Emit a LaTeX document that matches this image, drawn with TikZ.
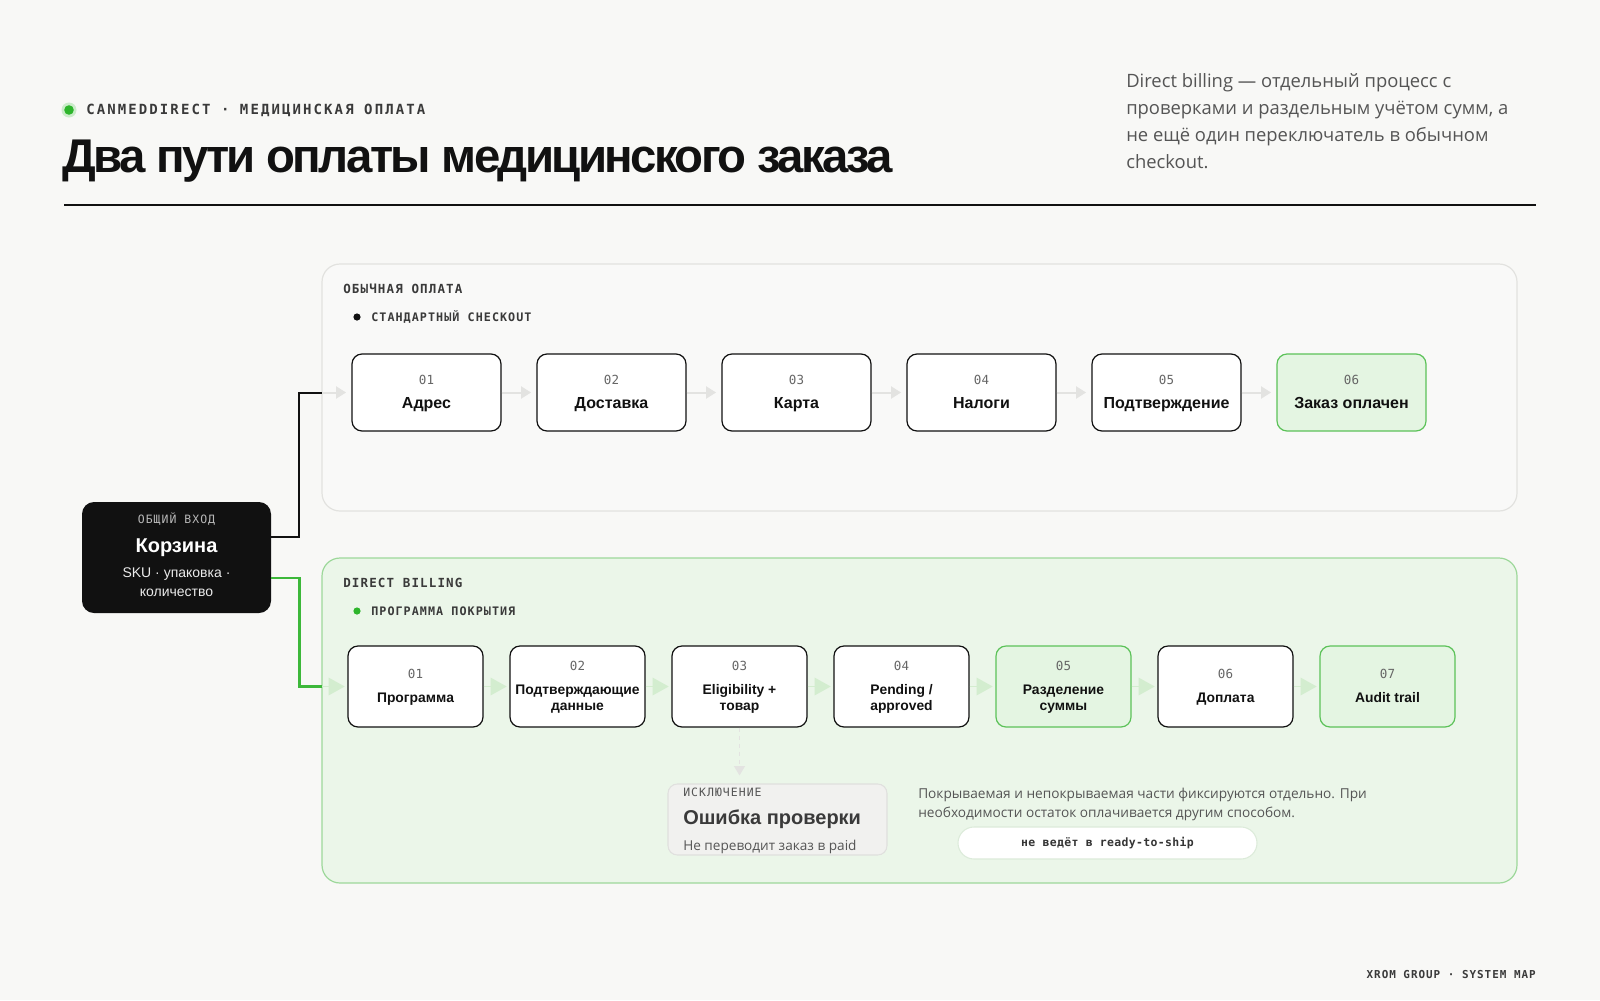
\documentclass[tikz,border=0pt]{standalone}
\usepackage{fontspec}
\setmainfont{Liberation Sans}
\newfontfamily\parafont{Open Sans}
\newfontfamily\titlefont[LetterSpace=-5.5]{Liberation Sans}
\newfontfamily\monowide[LetterSpace=15]{DejaVu Sans Mono}
\newfontfamily\monomid[LetterSpace=9]{DejaVu Sans Mono}
\newfontfamily\mononar[LetterSpace=3]{DejaVu Sans Mono}
\usetikzlibrary{arrows.meta,calc}
\definecolor{bg}{HTML}{F8F8F6}
\definecolor{ink}{HTML}{111111}
\definecolor{txtgray}{HTML}{555555}
\definecolor{lblgray}{HTML}{3A3A3A}
\definecolor{numgray}{HTML}{666666}
\definecolor{panelline}{HTML}{E2E2DF}
\definecolor{panelfill}{HTML}{F9F9F8}
\definecolor{grn}{HTML}{2EB52C}
\definecolor{grnline}{HTML}{3DB83A}
\definecolor{grnpanel}{HTML}{EBF6E9}
\definecolor{grnpanelline}{HTML}{9DD89A}
\definecolor{grnbox}{HTML}{E4F5E2}
\definecolor{grnboxline}{HTML}{5CC259}
\definecolor{grayarrow}{HTML}{E3E3E1}
\definecolor{grnarrow}{HTML}{D3EDCF}
\definecolor{excfill}{HTML}{F1F1EF}
\definecolor{excline}{HTML}{E0E0DE}
\definecolor{pillline}{HTML}{DCEBDA}
\newcommand\pxfs[2]{\fontsize{#1pt}{#2pt}\selectfont}
\tikzset{
  panelbox/.style={draw=panelline, line width=0.9pt, fill=panelfill, rounded corners=13.5pt, inner sep=0},
  grnpanelbox/.style={draw=grnpanelline, line width=0.9pt, fill=grnpanel, rounded corners=13.5pt, inner sep=0},
  tbox/.style={draw=ink, line width=0.9pt, fill=white, rounded corners=7.5pt, minimum width=111.75pt, minimum height=57.75pt, inner sep=0},
  tboxg/.style={tbox, draw=grnboxline, fill=grnbox},
  bbox/.style={draw=ink, line width=0.9pt, fill=white, rounded corners=7.5pt, minimum width=101.25pt, minimum height=60.75pt, inner sep=0},
  bboxg/.style={bbox, draw=grnboxline, fill=grnbox},
  numtxt/.style={inner sep=0, text=numgray, font=\mononar\pxfs{9.4}{11}, anchor=base},
  ttltop/.style={inner sep=0, text=ink, font=\bfseries\pxfs{12}{14}, anchor=base},
  ttlbot/.style={inner sep=0, text=ink, font=\bfseries\pxfs{10.4}{12}, anchor=base},
  capslbl/.style={inner sep=0, text=lblgray, font=\bfseries\monomid\pxfs{9.4}{11}, anchor=base west},
  sublbl/.style={inner sep=0, text=lblgray, font=\bfseries\monomid\pxfs{8.8}{10}, anchor=base west},
  grayarr/.style={draw=grayarrow, line width=1.5pt, -{Triangle[length=7.5pt, width=9pt]}, shorten >=4pt},
  grnarr/.style={draw=grnarrow, line width=1.2pt, -{Triangle[length=12pt, width=13pt]}, shorten >=2pt},
  blkconn/.style={draw=ink, line width=1.5pt},
  grnconn/.style={draw=grnline, line width=2pt},
  dashedarr/.style={draw=grayarrow, line width=1.2pt, dashed, -{Triangle[length=7pt, width=8pt]}, shorten >=6pt},
}
\newcommand\topstep[6]{%
  \node[#4] (#1) at (#2,#3) {};
  \node[numtxt] at ($(#1.center)+(0,-8)$) {#5};
  \node[ttltop] at ($(#1.center)+(0,15.5)$) {#6};}
\newcommand\botstepone[6]{%
  \node[#4] (#1) at (#2,#3) {};
  \node[numtxt] at ($(#1.center)+(0,-8)$) {#5};
  \node[ttlbot] at ($(#1.center)+(0,15.5)$) {#6};}
\newcommand\botsteptwo[7]{%
  \node[#4] (#1) at (#2,#3) {};
  \node[numtxt] at ($(#1.center)+(0,-16)$) {#5};
  \node[ttlbot] at ($(#1.center)+(0,7.5)$) {#6};
  \node[ttlbot] at ($(#1.center)+(0,23.5)$) {#7};}
\begin{document}
\begin{tikzpicture}[x=0.75pt,y=-0.75pt]
\fill[bg] (0,0) rectangle (1600,1000);
\useasboundingbox (0,0) rectangle (1600,1000);

% header
\fill[grn!25] (69,110) circle (7.5);
\fill[grn] (69,110) circle (4.8);
\node[inner sep=0, anchor=base west, text=lblgray, font=\bfseries\monowide\pxfs{10.5}{12}] (kicker) at (86,114.5) {CANMEDDIRECT · МЕДИЦИНСКАЯ ОПЛАТА};
\node[inner sep=0, anchor=base west, text=ink, font=\bfseries\titlefont\pxfs{35.5}{40}] (title) at (62,172.5) {Два пути оплаты медицинского заказа};
\node[inner sep=0, anchor=base west, text=txtgray, font=\parafont\pxfs{13.8}{20.25}, align=left] (para) at (1126,168) {Direct billing — отдельный процесс с\\проверками и раздельным учётом сумм, а\\не ещё один переключатель в обычном\\checkout.};
\draw[ink, line width=0.9pt] (64,205) -- (1536,205);

% panels
\node[panelbox, minimum width=896.25pt, minimum height=185.25pt] (ptop) at (919.5,387.5) {};
\node[grnpanelbox, minimum width=896.25pt, minimum height=243.75pt] (pbot) at (919.5,720.5) {};

\node[capslbl] (ltop) at (343,293.5) {ОБЫЧНАЯ ОПЛАТА};
\fill[ink] (357,317) circle (3.6);
\node[sublbl] (stop) at (371,321) {СТАНДАРТНЫЙ CHECKOUT};
\node[capslbl] (lbot) at (343,587.5) {DIRECT BILLING};
\fill[grn] (357,611) circle (3.6);
\node[sublbl] (sbot) at (371,615) {ПРОГРАММА ПОКРЫТИЯ};

% top steps
\topstep{t1}{426.5}{392.5}{tbox}{01}{Адрес}
\topstep{t2}{611.5}{392.5}{tbox}{02}{Доставка}
\topstep{t3}{796.5}{392.5}{tbox}{03}{Карта}
\topstep{t4}{981.5}{392.5}{tbox}{04}{Налоги}
\topstep{t5}{1166.5}{392.5}{tbox}{05}{Подтверждение}
\topstep{t6}{1351.5}{392.5}{tboxg}{06}{Заказ оплачен}
\foreach \a/\b in {t1/t2,t2/t3,t3/t4,t4/t5,t5/t6}{\draw[grayarr] (\a.east) -- (\b.west);}

% bottom steps
\botstepone{b1}{415.5}{686.5}{bbox}{01}{Программа}
\botsteptwo{b2}{577.5}{686.5}{bbox}{02}{Подтверждающие}{данные}
\botsteptwo{b3}{739.5}{686.5}{bbox}{03}{Eligibility +}{товар}
\botsteptwo{b4}{901.5}{686.5}{bbox}{04}{Pending /}{approved}
\botsteptwo{b5}{1063.5}{686.5}{bboxg}{05}{Разделение}{суммы}
\botstepone{b6}{1225.5}{686.5}{bbox}{06}{Доплата}
\botstepone{b7}{1387.5}{686.5}{bboxg}{07}{Audit trail}
\foreach \a/\b in {b1/b2,b2/b3,b3/b4,b4/b5,b5/b6,b6/b7}{\draw[grnarr] (\a.east) -- (\b.west);}

% cart
\node[fill=ink, rounded corners=9pt, minimum width=141.75pt, minimum height=83.25pt, inner sep=0] (korz) at (176.5,557.5) {};
\node[inner sep=0, anchor=base, text=white!72!black, font=\monomid\pxfs{8.6}{10}] at ($(korz.center)+(0,-34.5)$) {ОБЩИЙ ВХОД};
\node[inner sep=0, anchor=base, text=white, font=\bfseries\pxfs{15}{17}] at ($(korz.center)+(0,-5.5)$) {Корзина};
\node[inner sep=0, anchor=base, text=white!92!black, font=\pxfs{10.5}{12}] at ($(korz.center)+(0,19.5)$) {SKU · упаковка ·};
\node[inner sep=0, anchor=base, text=white!92!black, font=\pxfs{10.5}{12}] at ($(korz.center)+(0,38.5)$) {количество};

% connectors
\coordinate (jt) at (322,392.5);
\coordinate (jb) at (322,686.5);
\draw[blkconn] ($(korz.east)+(0,-20.5)$) -- ++(28,0) |- (jt);
\draw[grayarr] (jt) -- (t1.west);
\draw[grnconn] ($(korz.east)+(0,20.5)$) -- ++(28,0) |- (jb);
\draw[grnarr] (jb) -- (b1.west);

% exception
\node[draw=excline, line width=0.8pt, fill=excfill, rounded corners=7pt, minimum width=164.25pt, minimum height=53.25pt, inner sep=0] (exc) at (777.5,819.5) {};
\draw[dashedarr] (b3.south) -- (b3.south |- exc.north);
\node[inner sep=0, anchor=base west, text=txtgray, font=\monomid\pxfs{8.6}{10}] at (683,796) {ИСКЛЮЧЕНИЕ};
\node[inner sep=0, anchor=base west, text=lblgray, font=\bfseries\pxfs{15}{17}] at (683,824.5) {Ошибка проверки};
\node[inner sep=0, anchor=base west, text=txtgray, font=\parafont\pxfs{10.2}{12}] at (683,850) {Не переводит заказ в paid};

% note
\node[inner sep=0, anchor=base west, text=txtgray, font=\parafont\pxfs{10.25}{14.25}, align=left] (note) at (918,817) {Покрываемая и непокрываемая части фиксируются отдельно. При\\необходимости остаток оплачивается другим способом.};
\node[draw=pillline, line width=0.8pt, fill=white, rounded corners=12pt, minimum width=224.25pt, minimum height=24pt, inner sep=0] (pill) at (1107.5,843) {};
\node[inner sep=0, anchor=base, text=ink!85, font=\bfseries\mononar\pxfs{8.6}{10}] at ($(pill.center)+(0,3)$) {не ведёт в ready-to-ship};

% footer
\node[inner sep=0, anchor=base east, text=lblgray, font=\bfseries\monomid\pxfs{8.2}{10}] (foot) at (1536,978) {XROM GROUP · SYSTEM MAP};
\end{tikzpicture}
\end{document}
